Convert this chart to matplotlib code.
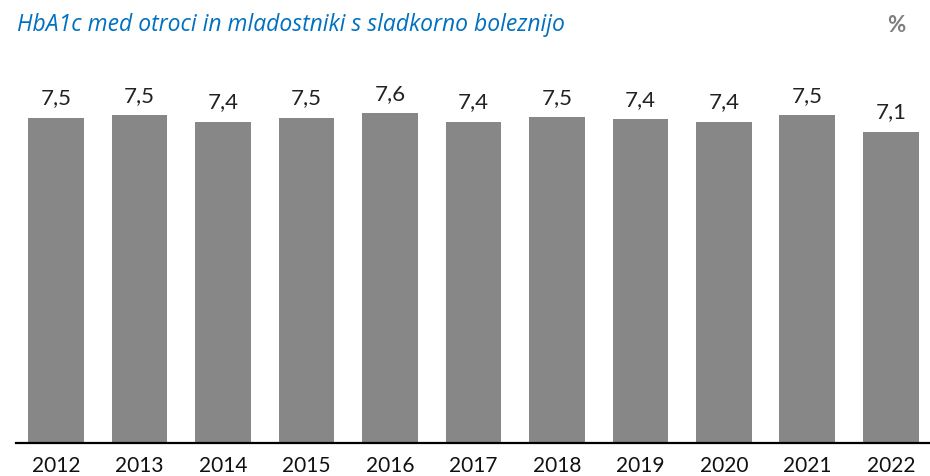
import matplotlib
matplotlib.use("Agg")
import matplotlib.pyplot as plt
import numpy as np

# HbA1c (%) by year
years = ["2012", "2013", "2014", "2015", "2016", "2017",
         "2018", "2019", "2020", "2021", "2022"]
hba1c = [7.46, 7.51, 7.37, 7.46, 7.56, 7.37, 7.47, 7.42, 7.37, 7.51, 7.14]

title = "HbA1c med otroci in mladostniki s sladkorno boleznijo"
unit = "%"

bar_color = "#878787"
title_color = "#0070C0"

plt.rcParams["font.family"] = ["Lato", "DejaVu Sans"]

fig = plt.figure(figsize=(9.3, 4.76), dpi=100)
ax = fig.add_axes([16 / 930, 1 - 443 / 476, 1 - 16 / 930, 393 / 476])

x = np.arange(len(years))
bars = ax.bar(x, hba1c, width=0.667, color=bar_color)

for rect, val in zip(bars, hba1c):
    ax.annotate(
        f"{val:.1f}".replace(".", ","),
        (rect.get_x() + rect.get_width() / 2, rect.get_height()),
        xytext=(0, 9.4),
        textcoords="offset points",
        ha="center",
        va="baseline",
        fontsize=16,
        color="#222222",
    )

ax.set_xlim(-0.48, len(years) - 0.53)
ax.set_ylim(0, 9.01)
ax.set_xticks(x)
ax.set_xticklabels(years, fontsize=15, color="#111111")
ax.tick_params(axis="x", length=0, pad=9.5)
ax.set_yticks([])
for side in ["top", "right", "left"]:
    ax.spines[side].set_visible(False)
ax.spines["bottom"].set_linewidth(1.6)
ax.spines["bottom"].set_color("black")

fig.text(17 / 930, 1 - 31 / 476, title, fontsize=16.5, style="italic",
         family=["Open Sans", "DejaVu Sans"],
         color=title_color, ha="left", va="baseline")
fig.text(896 / 930, 1 - 32 / 476, unit, fontsize=16, fontweight="bold",
         color="#7f7f7f", ha="center", va="baseline")

fig.savefig("out.png", dpi=100)
